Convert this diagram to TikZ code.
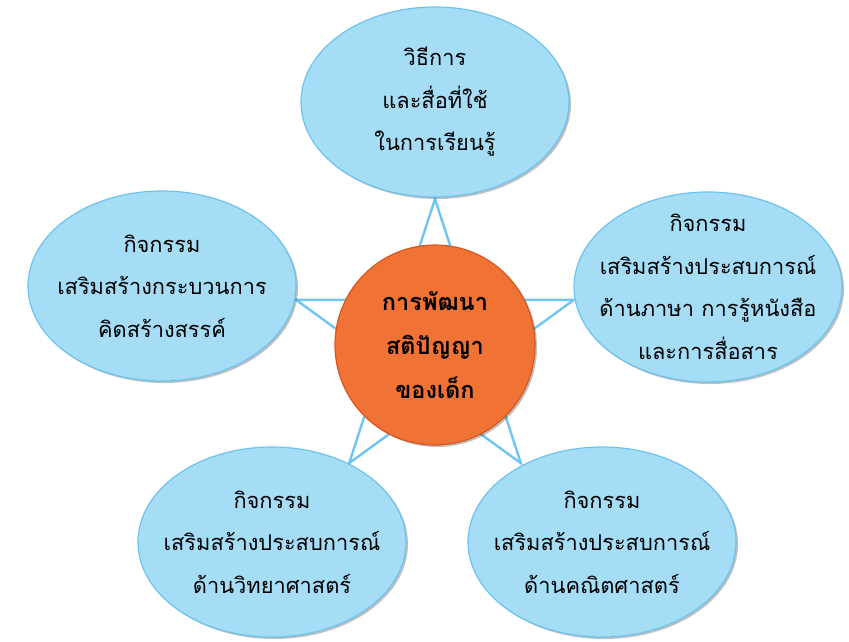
\documentclass[tikz,border=0pt]{standalone}
\usepackage{fontspec}
\newfontfamily\thaifont[Script=Thai]{Loma}
\usetikzlibrary{shapes.geometric,shadows,calc}
\definecolor{bubblefill}{HTML}{A6DDF6}
\definecolor{bubbleline}{HTML}{6CC3EE}
\definecolor{hubfill}{HTML}{F07335}
\definecolor{hubline}{HTML}{D9561F}
\definecolor{starline}{HTML}{6EC6F0}
\tikzset{
  bubble/.style={ellipse, draw=bubbleline, line width=1.2pt, fill=bubblefill,
    minimum width=268pt, minimum height=190pt, inner sep=-30pt, align=center,
    font=\thaifont\fontsize{21.8}{42.5}\selectfont,
    drop shadow={shadow xshift=2pt, shadow yshift=-2pt, fill=black, opacity=0.25}},
  hub/.style={circle, draw=hubline, line width=1.2pt, fill=hubfill,
    minimum size=200pt, inner sep=-20pt, align=center,
    font=\thaifont\bfseries\fontsize{23.5}{44}\selectfont,
    drop shadow={shadow xshift=2pt, shadow yshift=-2pt, fill=black, opacity=0.25}},
  starpath/.style={draw=starline, line width=2.4pt, line join=miter}
}
\begin{document}
\begin{tikzpicture}[x=1pt, y=-1pt]
  \useasboundingbox (0,0) rectangle (849,641);
  % star behind the bubbles
  \coordinate (starc) at (435,345);
  \foreach \k in {0,...,9} {
    \pgfmathsetmacro\rad{mod(\k,2)==1 ? 55.8 : 146}
    \coordinate (star\k) at ($(starc)+({-90+36*\k}:\rad)$);
  }
  \draw[starpath] (star0) -- (star1) -- (star2) -- (star3) -- (star4)
    -- (star5) -- (star6) -- (star7) -- (star8) -- (star9) -- cycle;
  % bubbles
  \node[bubble] (methods) at (435,102) {วิธีการ\\และสื่อที่ใช้\\ในการเรียนรู้};
  \node[bubble] (creative) at (162,286) {กิจกรรม\\เสริมสร้างกระบวนการ\\คิดสร้างสรรค์};
  \node[bubble] (language) at (708,287) {กิจกรรม\\เสริมสร้างประสบการณ์\\ด้านภาษา การรู้หนังสือ\\และการสื่อสาร};
  \node[bubble] (science) at (272,542) {กิจกรรม\\เสริมสร้างประสบการณ์\\ด้านวิทยาศาสตร์};
  \node[bubble] (maths) at (602,542) {กิจกรรม\\เสริมสร้างประสบการณ์\\ด้านคณิตศาสตร์};
  % hub
  \node[hub] (child) at (435,345) {การพัฒนา\\สติปัญญา\\ของเด็ก};
\end{tikzpicture}
\end{document}
